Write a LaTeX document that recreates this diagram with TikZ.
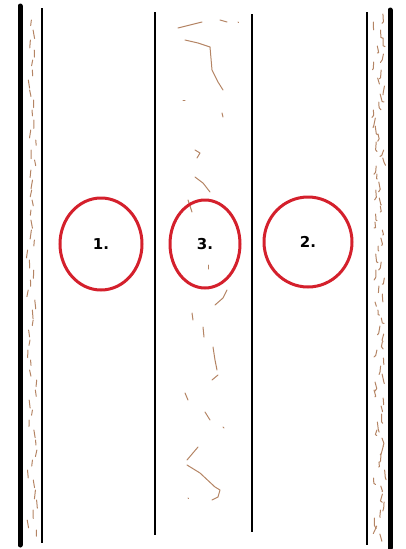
\documentclass[tikz,border=0pt]{standalone}
\usepackage{fontspec}
\usepackage{xcolor}
\usepackage{tikz}
\usetikzlibrary{shapes.geometric}

\newfontfamily\labelfont{DejaVu Sans}
\definecolor{ringred}{RGB}{212,32,44}
\definecolor{crack}{RGB}{180,132,100}

\begin{document}
\begin{tikzpicture}[
  x=1pt, y=-1pt,
  wall/.style={line width=5pt, line cap=round},
  edge/.style={line width=2.6pt},
  ring/.style={draw=ringred, line width=3pt, ellipse, inner sep=0pt, font=\labelfont\bfseries\fontsize{15}{17}\selectfont},
  crackline/.style={draw=crack, line width=1pt, line cap=round, line join=round},
]
\useasboundingbox (0,0) rectangle (405,549);

% walls and lane borders
\draw[wall] (20,6) -- (20,545);
\draw[edge] (42,8) -- (42,543);
\draw[edge] (155,12) -- (155,535);
\draw[edge] (252,14) -- (252,532);
\draw[edge] (367,12) -- (367,545);
\draw[wall] (390,10) -- (390,548);

% cracks in the side strips
\pgfmathsetseed{7}
\foreach \y in {20,30,...,530} {
  \pgfmathsetmacro{\xa}{32+5*rand}
  \pgfmathsetmacro{\dy}{5+4*rnd}
  \draw[crackline] (\xa,\y) -- ++(1.5*rand,\dy);
}
\foreach \y in {14,22,...,540} {
  \pgfmathsetmacro{\xb}{379+6*rand}
  \pgfmathsetmacro{\dy}{4+4*rnd}
  \draw[crackline] (\xb,\y) -- ++(2*rand,\dy) -- ++(2*rand,3*rnd);
}

% cracks in the middle lane
\draw[crackline] (178,28) -- (190,25) -- (202,22);
\draw[crackline] (220,20) -- (227,22);
\draw[crackline] (238,22) -- (238.5,22.5);
\draw[crackline] (185,40) -- (198,43) -- (210,47) -- (212,70) -- (218,82) -- (223,90);
\draw[crackline] (183,100) -- (185,100);
\draw[crackline] (222,113) -- (223,117);
\draw[crackline] (195,150) -- (200,153) -- (197,158);
\draw[crackline] (195,177) -- (203,183) -- (210,192);
\draw[crackline] (188,200) -- (192,212);
\draw[crackline] (208,265) -- (208,269);
\draw[crackline] (227,290) -- (223,298) -- (215,305);
\draw[crackline] (192,313) -- (193,320);
\draw[crackline] (203,327) -- (204,337);
\draw[crackline] (213,347) -- (215,360) -- (217,370);
\draw[crackline] (218,375) -- (212,380);
\draw[crackline] (185,393) -- (188,400);
\draw[crackline] (205,412) -- (210,420);
\draw[crackline] (223,427) -- (224,428);
\draw[crackline] (198,447) -- (187,460);
\draw[crackline] (187,465) -- (200,473) -- (215,487) -- (220,490) -- (218,497) -- (212,500);
\draw[crackline] (188,498) -- (188.5,498.5);

% numbered positions
\node[ring, minimum width=82pt, minimum height=92pt] (c1) at (101,244) {1.};
\node[ring, minimum width=70pt, minimum height=88pt] (c3) at (205,244) {3.};
\node[ring, minimum width=88pt, minimum height=90pt] (c2) at (308,242) {2.};

\end{tikzpicture}
\end{document}
